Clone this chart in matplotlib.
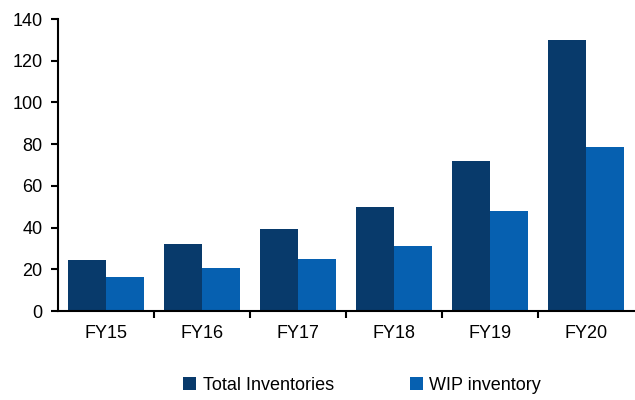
import matplotlib.pyplot as plt
import numpy as np
from matplotlib.ticker import FixedLocator

plt.rcParams['font.family'] = ['Liberation Sans', 'DejaVu Sans']

years = ['FY15', 'FY16', 'FY17', 'FY18', 'FY19', 'FY20']
total_inv = [24.5, 32, 39.5, 50, 72, 130]
wip_inv = [16.5, 20.5, 25, 31, 48, 78.5]

fig = plt.figure(figsize=(6.35, 4), dpi=100)
ax = fig.add_axes([0.0913, 0.2225, 0.907, 0.73])

x = np.arange(len(years))
w = 0.4
ax.bar(x - w / 2, total_inv, w, color='#083a6b', label='Total Inventories')
ax.bar(x + w / 2, wip_inv, w, color='#0660b0', label='WIP inventory')

ax.set_xlim(-0.5, len(years) - 0.5)
ax.set_ylim(0, 140)
ax.set_yticks(range(0, 141, 20))
ax.set_xticks(x)
ax.set_xticklabels(years)
ax.xaxis.set_minor_locator(FixedLocator(np.arange(0.5, len(years) - 1, 1)))
ax.tick_params(axis='x', which='major', length=0, pad=10, labelsize=13)
ax.tick_params(axis='x', which='minor', length=5, width=1.5, direction='out')
ax.tick_params(axis='y', length=5, width=1.5, labelsize=13, pad=6)

for s in ['top', 'right']:
    ax.spines[s].set_visible(False)
ax.spines['left'].set_linewidth(1.5)
ax.spines['bottom'].set_linewidth(1.5)

fig.legend(loc='lower center', bbox_to_anchor=(0.57, -0.025), ncol=2, frameon=False,
           fontsize=13, handlelength=0.75, handleheight=0.75, handletextpad=0.35,
           columnspacing=4.2)

plt.savefig('out.png', dpi=100)
